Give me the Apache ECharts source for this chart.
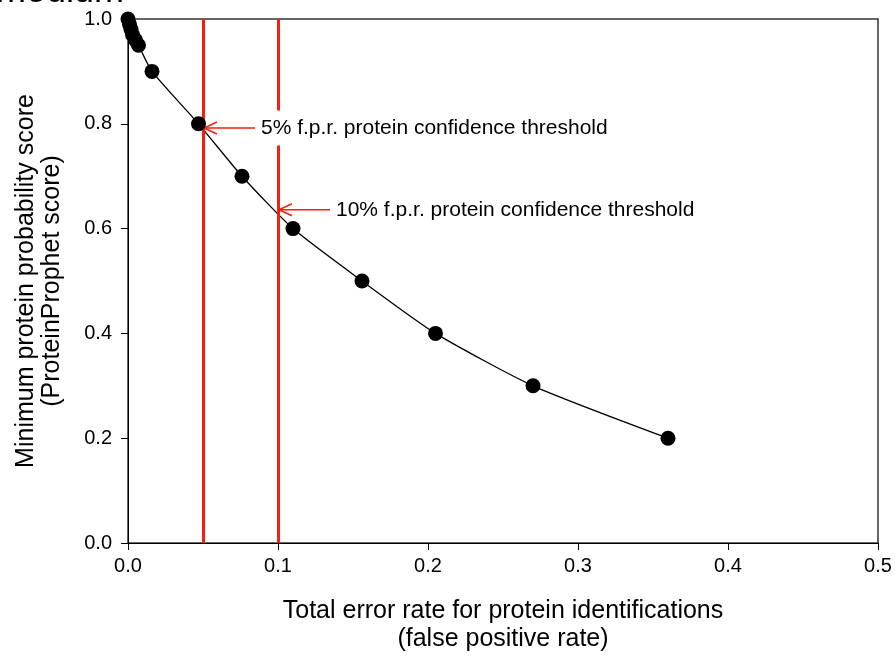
<!DOCTYPE html>
<html>
<head>
<meta charset="utf-8">
<script src="https://cdn.jsdelivr.net/npm/echarts@6/dist/echarts.min.js"></script>
<style>
  html, body { margin: 0; padding: 0; background: #fff; }
  #chart { width: 895px; height: 659px; }
</style>
</head>
<body>
<div id="chart"></div>
<script>
// Total error rate (false positive rate) at each minimum ProteinProphet score
const errorRate = [0.000, 0.001, 0.002, 0.003, 0.005, 0.007, 0.016, 0.047, 0.076, 0.110, 0.156, 0.205, 0.270, 0.360];
const minScore  = [1.00, 0.99, 0.98, 0.97, 0.96, 0.95, 0.90, 0.80, 0.70, 0.60, 0.50, 0.40, 0.30, 0.20];

// Confidence thresholds: error rate and the score where the curve crosses it
const thresholdRate  = [0.05, 0.10];
const thresholdScore = [0.792, 0.636];
const thresholdLabels = [
  '5% f.p.r. protein confidence threshold',
  '10% f.p.r. protein confidence threshold'
];

const xTicks = [0, 0.1, 0.2, 0.3, 0.4, 0.5];
const yTicks = [0, 0.2, 0.4, 0.6, 0.8, 1.0];

const FONT = '"Liberation Sans", Arial, Helvetica, sans-serif';
const RED = '#f2200c';

const points = errorRate.map((x, i) => [x, minScore[i]]);
const thresholds = thresholdRate.map((x, i) => [x, thresholdScore[i]]);

const chart = echarts.init(document.getElementById('chart'), null, { renderer: 'canvas' });

chart.setOption({
  animation: false,
  backgroundColor: '#fff',
  textStyle: { fontFamily: FONT },
  graphic: [{
    type: 'text',
    left: -4,
    top: -26,
    style: { text: 'medium', font: '36px ' + FONT, fill: '#000' }
  }],
  grid: {
    left: 128, right: 17, top: 19, bottom: 116,
    show: true, borderColor: '#333', borderWidth: 1.5
  },
  xAxis: {
    type: 'value',
    min: xTicks[0], max: xTicks[xTicks.length - 1], interval: 0.1,
    name: 'Total error rate for protein identifications\n(false positive rate)',
    nameLocation: 'middle', nameGap: 54,
    nameTextStyle: { fontSize: 25, color: '#000', lineHeight: 28, fontFamily: FONT },
    axisLine: { lineStyle: { color: '#000', width: 1 } },
    axisTick: { inside: false, length: 7, lineStyle: { color: '#000' } },
    axisLabel: { fontSize: 20, color: '#000', margin: 13, formatter: v => v.toFixed(1), fontFamily: FONT },
    splitLine: { show: false }
  },
  yAxis: {
    type: 'value',
    min: yTicks[0], max: yTicks[yTicks.length - 1], interval: 0.2,
    name: 'Minimum protein probability score\n(ProteinProphet score)',
    nameLocation: 'middle', nameGap: 63,
    nameTextStyle: { fontSize: 25, color: '#000', lineHeight: 26, fontFamily: FONT },
    axisLine: { lineStyle: { color: '#000', width: 1 } },
    axisTick: { inside: false, length: 7, lineStyle: { color: '#000' } },
    axisLabel: { fontSize: 20, color: '#000', margin: 16, formatter: v => v.toFixed(1), fontFamily: FONT },
    splitLine: { show: false }
  },
  series: [
    {
      // threshold lines
      type: 'line',
      data: [],
      z: 2,
      markLine: {
        silent: true,
        symbol: 'none',
        label: { show: false },
        lineStyle: { color: RED, width: 3, type: 'solid' },
        data: thresholdRate.map(x => ({ xAxis: x }))
      }
    },
    {
      // fitted curve through the measurements
      type: 'line',
      data: points,
      smooth: 0.2,
      showSymbol: false,
      symbol: 'none',
      lineStyle: { color: '#000', width: 1.3 },
      z: 3
    },
    {
      type: 'scatter',
      data: points,
      symbol: 'circle',
      symbolSize: 15,
      clip: false,
      itemStyle: { color: '#000', opacity: 1 },
      z: 6
    },
    {
      // arrows and labels pointing at each threshold crossing
      type: 'custom',
      data: thresholds,
      z: 5,
      clip: false,
      renderItem: function (params, api) {
        const i = params.dataIndex;
        const head = api.coord([api.value(0), api.value(1)]);
        const hx = head[0] + 1, hy = head[1];
        const tx = hx + 51;
        return {
          type: 'group',
          children: [
            {
              type: 'text',
              style: {
                x: tx + 6, y: hy,
                text: thresholdLabels[i],
                font: '21px ' + FONT,
                fill: '#000',
                align: 'left',
                verticalAlign: 'middle',
                backgroundColor: '#fff',
                padding: [7, 0, 7, 0]
              }
            },
            {
              type: 'line',
              shape: { x1: hx, y1: hy, x2: tx, y2: hy },
              style: { stroke: RED, lineWidth: 1.5 }
            },
            {
              type: 'polyline',
              shape: { points: [[hx + 13, hy - 6], [hx, hy], [hx + 13, hy + 6]] },
              style: { stroke: RED, lineWidth: 1.5, fill: null }
            }
          ]
        };
      }
    }
  ]
});
</script>
</body>
</html>
